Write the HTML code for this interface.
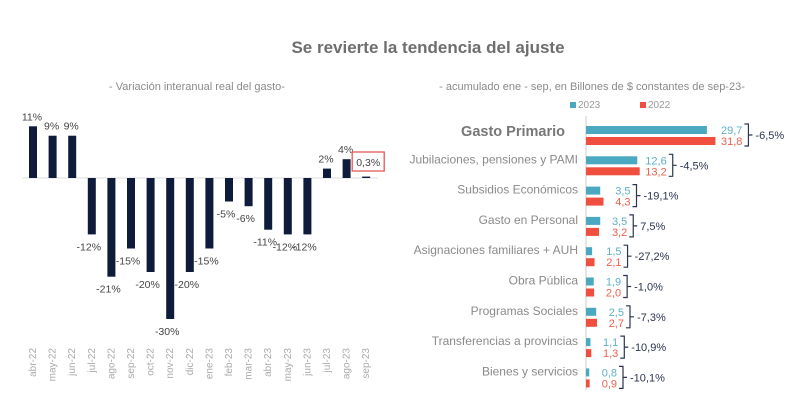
<!DOCTYPE html>
<html><head><meta charset="utf-8"><style>
html,body{margin:0;padding:0;background:#fff;}
svg{display:block;font-family:"Liberation Sans",sans-serif;}
</style></head><body>
<svg id="c" width="800" height="414" viewBox="0 0 800 414">
<text x="428" y="53" text-anchor="middle" font-size="17" font-weight="bold" fill="#6e6e6e">Se revierte la tendencia del ajuste</text>
<text x="197" y="90" text-anchor="middle" font-size="11" fill="#8a8a8a">- Variación interanual real del gasto-</text>
<text x="592" y="90" text-anchor="middle" font-size="11" fill="#8a8a8a">- acumulado ene - sep, en Billones de $ constantes de sep-23-</text>
<g id="left"></g>
<g id="right"></g>
</svg>
<script>
const months=["abr-22","may-22","jun-22","jul-22","ago-22","sep-22","oct-22","nov-22","dic-22","ene-23","feb-23","mar-23","abr-23","may-23","jun-23","jul-23","ago-23","sep-23"];
const variation=[11,9,9,-12,-21,-15,-20,-30,-20,-15,-5,-6,-11,-12,-12,2,4,0.3];
const variationLabels=["11%","9%","9%","-12%","-21%","-15%","-20%","-30%","-20%","-15%","-5%","-6%","-11%","-12%","-12%","2%","4%","0,3%"];

const categories=["Gasto Primario","Jubilaciones, pensiones y PAMI","Subsidios Económicos","Gasto en Personal","Asignaciones familiares + AUH","Obra Pública","Programas Sociales","Transferencias a provincias","Bienes y servicios"];
const values2023=[29.7,12.6,3.5,3.5,1.5,1.9,2.5,1.1,0.8];
const values2022=[31.8,13.2,4.3,3.2,2.1,2.0,2.7,1.3,0.9];
const labels2023=["29,7","12,6","3,5","3,5","1,5","1,9","2,5","1,1","0,8"];
const labels2022=["31,8","13,2","4,3","3,2","2,1","2,0","2,7","1,3","0,9"];
const changeLabels=["-6,5%","-4,5%","-19,1%","7,5%","-27,2%","-1,0%","-7,3%","-10,9%","-10,1%"];

const NS="http://www.w3.org/2000/svg";
function mk(tag,attrs,parent,txt){const e=document.createElementNS(NS,tag);for(const k in attrs)e.setAttribute(k,attrs[k]);if(txt!==undefined)e.textContent=txt;parent.appendChild(e);return e;}

// left chart
const L=document.getElementById('left');
const zeroY=178, pxPer=4.7, x0=33, step=19.6, bw=8;
const xL=i=>x0+i*step;
const yL=v=>zeroY-v*pxPer;
const axis=mk('line',{x1:22,x2:378,y1:zeroY,y2:zeroY,stroke:'#ddd','stroke-width':1},L);


variation.forEach((v,i)=>{
  const x=xL(i);
  const h=Math.max(Math.abs(v)*pxPer,1);
  const r=mk('rect',{x:x-bw/2,y:v>=0?yL(v):zeroY,width:bw,height:h,fill:'#0f1b3a'},L);
  
  
  let t;
  if(i===variation.length-1){
    const box=mk('rect',{x:x-14,y:152,width:32,height:19,fill:'none',stroke:'#e05a5a','stroke-width':1.3},L);
    
    
    t=mk('text',{x:x+2,y:166,'text-anchor':'middle','font-size':10.5,fill:'#444'},L,variationLabels[i]);
  } else if(v>=0){
    t=mk('text',{x:x-1,y:yL(v)-6,'text-anchor':'middle','font-size':10.5,fill:'#444'},L,variationLabels[i]);
  } else {
    t=mk('text',{x:x-3,y:yL(v)+16,'text-anchor':'middle','font-size':10.5,fill:'#444'},L,variationLabels[i]);
  }
  
  
  const m=mk('text',{x:0,y:0,transform:`translate(${x+3},348) rotate(-90)`,'text-anchor':'end','font-size':10,fill:'#aaa'},L,months[i]);
  
  
});

// right chart
const R=document.getElementById('right');
const ax=586, sc=4.07, row0=126, rowStep=30.3, bh=8;
const xR=v=>ax+v*sc;
const l1=mk('rect',{x:570,y:102,width:6,height:6,fill:'#4aa8c0'},R);

const l1t=mk('text',{x:578,y:108,'font-size':10,fill:'#999'},R,'2023');

const l2=mk('rect',{x:640,y:102,width:6,height:6,fill:'#f04e3e'},R);

const l2t=mk('text',{x:648,y:108,'font-size':10,fill:'#999'},R,'2022');

const va=mk('line',{x1:ax,x2:ax,y1:116,y2:390,stroke:'#ccc','stroke-width':1},R);

categories.forEach((c,i)=>{
  const y=row0+i*rowStep;
  const isMain=i===0;
  const ct=mk('text',{x:isMain?565:578,y:y+(isMain?10:7),'text-anchor':'end','font-size':isMain?14.5:12,'font-weight':isMain?'bold':'normal',fill:isMain?'#777':'#8a8a8a'},R,c);
  
  const b1=mk('rect',{x:ax,y:y,width:Math.max(values2023[i]*sc,3),height:bh,fill:'#4aa8c0'},R);
  
  const b2=mk('rect',{x:ax,y:y+11,width:Math.max(values2022[i]*sc,3),height:bh,fill:'#f04e3e'},R);
  
  const mx=Math.max(xR(values2023[i]),xR(values2022[i]),ax+4);
  const ne=mx+27;
  const t1=mk('text',{x:ne,y:y+8,'text-anchor':'end','font-size':11,fill:'#5fb0c8'},R,labels2023[i]);
  
  const t2=mk('text',{x:ne,y:y+19,'text-anchor':'end','font-size':11,fill:'#f0604f'},R,labels2022[i]);
  
  const bx=ne+2, top=y-2, bot=y+20, mid=(top+bot)/2;
  const br=mk('path',{d:`M${bx},${top} H${bx+4} V${bot} H${bx} M${bx+4},${mid} H${bx+8}`,fill:'none',stroke:'#2c3550','stroke-width':1.2},R);
  
  const pt=mk('text',{x:bx+11,y:mid+4,'font-size':11,'font-weight':500,fill:'#2c3550'},R,changeLabels[i]);
  
});
</script>
</body></html>
